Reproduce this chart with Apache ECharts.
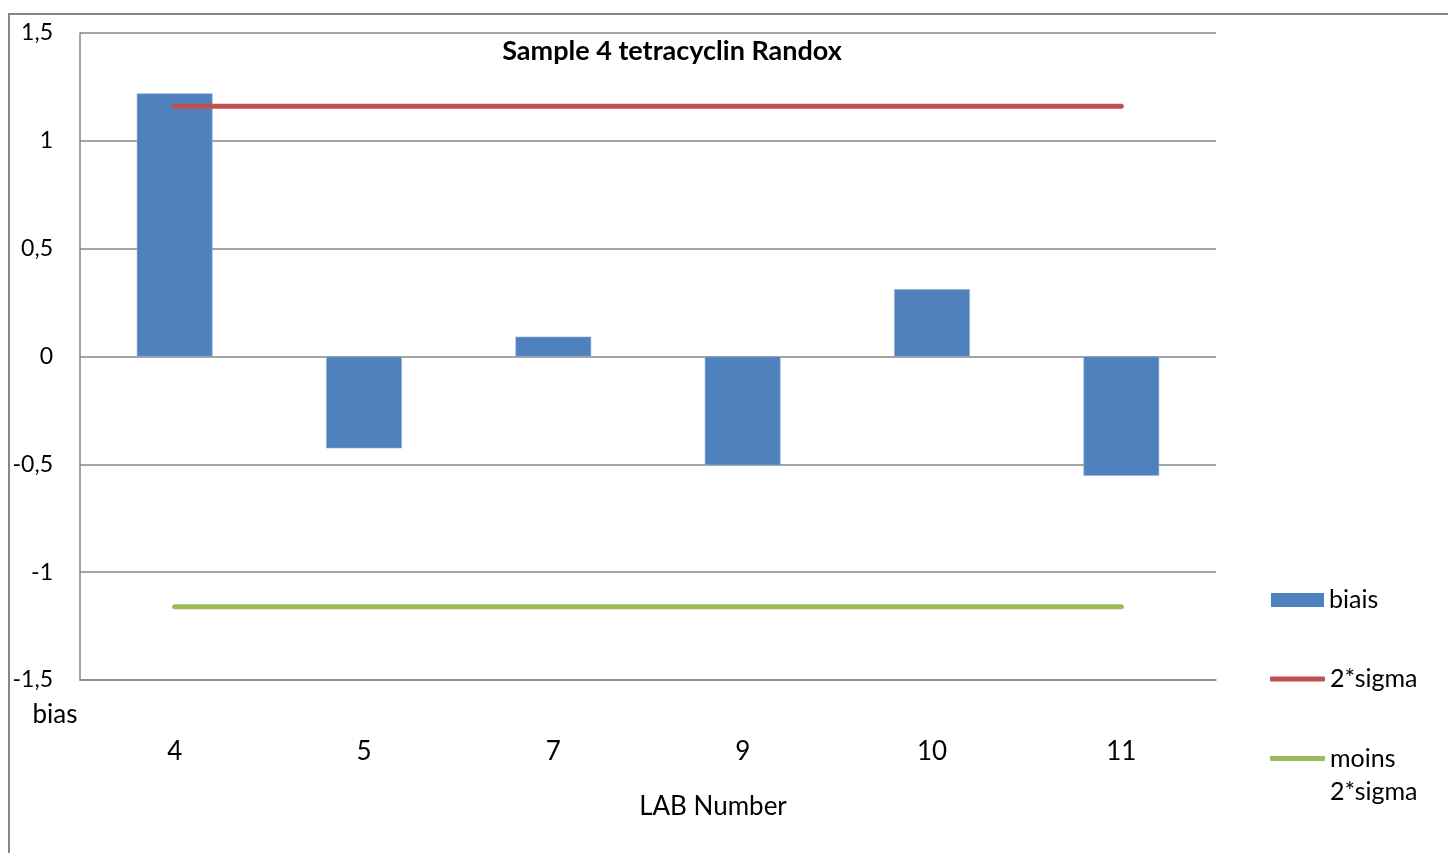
<!DOCTYPE html>
<html>
<head>
<meta charset="utf-8">
<script src="https://cdn.jsdelivr.net/npm/echarts@6/dist/echarts.min.js"></script>
<style>
  html, body { margin: 0; padding: 0; background: #fff; }
  #chart { width: 1448px; height: 853px; }
</style>
</head>
<body>
<div id="chart"></div>
<script>
// Laboratory numbers on the category axis
const labs = ['4', '5', '7', '9', '10', '11'];
// Bias reported by each laboratory
const biais = [1.22, -0.426, 0.092, -0.504, 0.312, -0.553];
// Upper and lower acceptance limits (±2 sigma)
const deuxSigma = [1.16, 1.16, 1.16, 1.16, 1.16, 1.16];
const moinsDeuxSigma = [-1.16, -1.16, -1.16, -1.16, -1.16, -1.16];
// Value axis ticks
const yTicks = [-1.5, -1, -0.5, 0, 0.5, 1, 1.5];

const FONT = 'Lato';
const GRID_COLOR = '#878787';

const chart = echarts.init(document.getElementById('chart'), null, { renderer: 'canvas' });

// French decimal comma on the value axis
const fmt = v => String(v).replace('.', ',');

const legendText = { fontFamily: FONT, fontSize: 25, color: '#000', lineHeight: 30 };

chart.setOption({
  backgroundColor: '#ffffff',
  animation: false,
  textStyle: { fontFamily: FONT, color: '#000' },
  title: {
    text: 'Sample 4 tetracyclin Randox',
    left: 672,
    top: 38,
    padding: 0,
    textAlign: 'center',
    textStyle: { fontFamily: FONT, fontWeight: 'bold', fontSize: 27, color: '#000' }
  },
  graphic: [{
    type: 'rect',
    z: -1,
    shape: { x: 9, y: 14, width: 1500, height: 900 },
    style: { fill: 'none', stroke: GRID_COLOR, lineWidth: 2 }
  }],
  legend: [
    {
      orient: 'vertical', left: 1271, top: 585, padding: 0,
      itemWidth: 53, itemHeight: 14,
      data: [{ name: 'biais', icon: 'rect' }],
      itemStyle: { borderWidth: 0 },
      textStyle: legendText
    },
    {
      orient: 'vertical', left: 1270, top: 664, padding: 0,
      itemWidth: 55, itemHeight: 5,
      data: [{ name: '2*sigma', icon: 'roundRect' }],
      itemStyle: { borderWidth: 0 },
      textStyle: legendText
    },
    {
      orient: 'vertical', left: 1270, top: 709, padding: 0,
      itemWidth: 55, itemHeight: 5,
      data: [{ name: 'moins 2*sigma', icon: 'roundRect' }],
      itemStyle: { borderWidth: 0 },
      // blank first line keeps "moins" level with the icon, "2*sigma" wraps below
      formatter: () => '\nmoins\n2*sigma',
      textStyle: Object.assign({}, legendText, { lineHeight: 33 })
    }
  ],
  grid: { left: 80, right: 232, top: 33, bottom: 173, containLabel: false },
  xAxis: {
    type: 'category',
    data: labs,
    boundaryGap: true,
    name: 'LAB Number',
    nameLocation: 'middle',
    nameGap: 114,
    nameTextStyle: { fontFamily: FONT, fontSize: 26, color: '#000', padding: [0, 0, 0, 130] },
    axisLine: { show: true, onZero: false, lineStyle: { color: GRID_COLOR, width: 1.5 } },
    axisTick: { show: false },
    axisLabel: { margin: 59, fontFamily: FONT, fontSize: 26, color: '#000' },
    splitLine: { show: false }
  },
  yAxis: {
    type: 'value',
    min: yTicks[0],
    max: yTicks[yTicks.length - 1],
    interval: 0.5,
    name: 'bias',
    nameLocation: 'start',
    nameGap: 22,
    nameTextStyle: { fontFamily: FONT, fontSize: 26, color: '#000', padding: [0, 50, 0, 0] },
    axisLine: { show: true, lineStyle: { color: GRID_COLOR, width: 1.5 } },
    axisTick: { show: false },
    axisLabel: { margin: 27, fontFamily: FONT, fontSize: 23, color: '#000', formatter: fmt },
    splitLine: { show: true, lineStyle: { color: GRID_COLOR, width: 1.5 } }
  },
  series: [
    {
      name: 'biais',
      type: 'bar',
      data: biais,
      barWidth: '40%',
      itemStyle: { color: '#4F81BD', borderColor: '#8fb0d8', borderWidth: 0.6 }
    },
    {
      name: '2*sigma',
      type: 'line',
      data: deuxSigma,
      symbol: 'none',
      itemStyle: { color: '#C0504D' },
      lineStyle: { color: '#C0504D', width: 5, cap: 'round' }
    },
    {
      name: 'moins 2*sigma',
      type: 'line',
      data: moinsDeuxSigma,
      symbol: 'none',
      itemStyle: { color: '#9BBB59' },
      lineStyle: { color: '#9BBB59', width: 5, cap: 'round' }
    }
  ]
});
</script>
</body>
</html>
